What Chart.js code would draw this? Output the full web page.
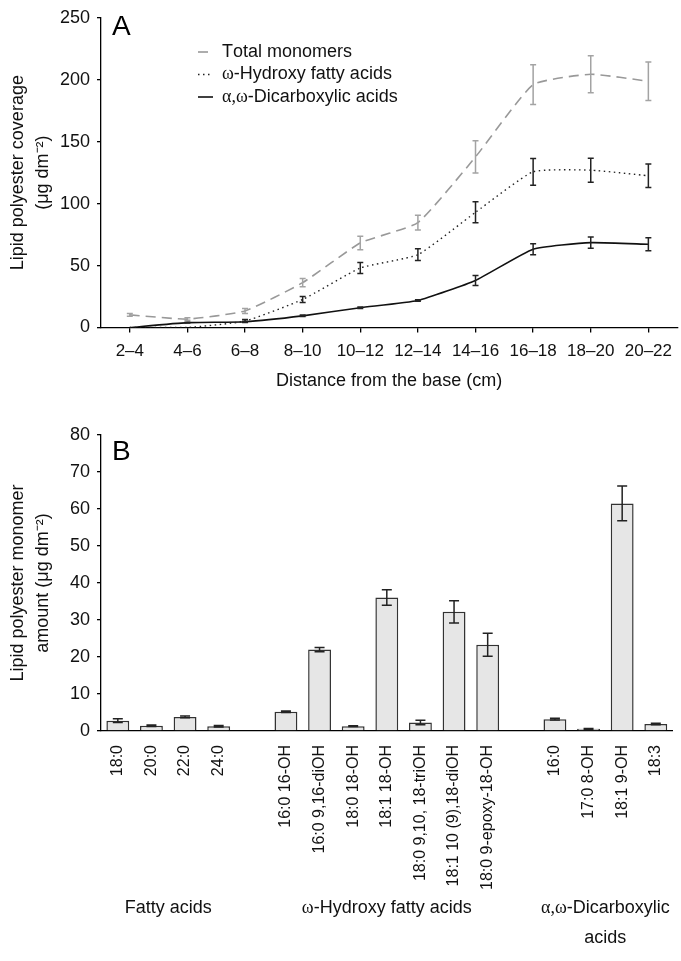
<!DOCTYPE html>
<html>
<head>
<meta charset="utf-8">
<script src="https://cdn.jsdelivr.net/npm/chart.js@4.4.1/dist/chart.umd.min.js"></script>
<style>
  body { margin: 0; background: #fff; }
  .box { position: absolute; left: 0; width: 681px; }
</style>
</head>
<body>
<div class="box" style="top:0;height:392px"><canvas id="chartA"></canvas></div>
<div class="box" style="top:392px;height:569px"><canvas id="chartB"></canvas></div>
<script>
// panel A: coverage along the length
var distLabels = ["2–4", "4–6", "6–8", "8–10", "10–12", "12–14", "14–16", "16–18", "18–20", "20–22"];
var totalMean = [10.2, 6.8, 13.4, 36.2, 68.2, 84.7, 137.7, 196, 204.4, 198.8];
var totalErr = [1.2, 1, 2, 3.4, 5.5, 6, 13, 16, 15, 15.5];
var hydroxyMean = [0, 0, 5.2, 22.6, 48, 58.8, 93, 125.7, 127, 122.5];
var hydroxyErr = [0, 0, 1.2, 2.4, 4.5, 4.7, 8.5, 10.8, 9.7, 9.4];
var dicarbMean = [0, 3.9, 4.7, 9.4, 16, 21.8, 38, 63.2, 68.5, 67.2];
var dicarbErr = [0, 0.3, 0.4, 0.6, 0.6, 0.6, 4, 4.5, 4.6, 5.2];

// panel B: monomer amounts (empty slots separate the groups)
var monomerLabels = ["18:0", "20:0", "22:0", "24:0", "",
  "16:0 16-OH", "16:0 9,16-diOH", "18:0 18-OH", "18:1 18-OH", "18:0 9,10, 18-triOH", "18:1 10 (9),18-diOH", "18:0 9-epoxy-18-OH", "",
  "16:0", "17:0 8-OH", "18:1 9-OH", "18:3"];
var monomerMean = [2.8, 1.4, 3.8, 1.3, null, 5.2, 22, 1.3, 36.1, 2.3, 32.2, 23.3, null, 3.2, 0.6, 61.5, 1.9];
var monomerErr = [0.5, 0.2, 0.25, 0.2, null, 0.2, 0.6, 0.1, 2.1, 0.6, 3, 3.1, null, 0.25, 0.1, 4.7, 0.2];

var groupNames = ["Fatty acids", "ω-Hydroxy fatty acids", "α,ω-Dicarboxylic\nacids"];
var groupFirst = [0, 5, 13];
var groupLast = [3, 11, 16];

var SANS = "'Liberation Sans', Arial, sans-serif";
var SERIF = "'Liberation Serif', 'Times New Roman', serif";
Chart.defaults.font.family = SANS;
Chart.defaults.font.size = 18;
Chart.defaults.color = "#111";

// greek letters (and the comma between them) in serif, the rest in sans
function drawMixed(ctx, text, x, y, size, align) {
  var pieces = [], total = 0;
  for (var i = 0; i < text.length; i++) {
    var ch = text[i];
    var serif = /[\u0370-\u03ff]/.test(ch) || (ch === "," && /[\u0370-\u03ff]/.test(text[i - 1] || ""));
    ctx.font = size + "px " + (serif ? SERIF : SANS);
    var w = ctx.measureText(ch).width;
    pieces.push({ ch: ch, font: ctx.font, w: w });
    total += w;
  }
  var cx = align === "center" ? x - total / 2 : x;
  ctx.textAlign = "left";
  ctx.textBaseline = "middle";
  pieces.forEach(function (p) {
    ctx.font = p.font;
    ctx.fillText(p.ch, cx, y);
    cx += p.w;
  });
}

var errorBars = {
  id: "errorBars",
  afterDatasetsDraw: function (chart) {
    var ctx = chart.ctx, yScale = chart.scales.y;
    chart.data.datasets.forEach(function (ds, i) {
      if (!ds.errors) return;
      var meta = chart.getDatasetMeta(i);
      ctx.save();
      ctx.strokeStyle = ds.errorColor;
      ctx.lineWidth = 1.5;
      meta.data.forEach(function (el, j) {
        var v = ds.data[j], e = ds.errors[j];
        if (v == null || !e) return;
        var x = el.x;
        var top = yScale.getPixelForValue(v + e);
        var bot = yScale.getPixelForValue(Math.max(0, v - e));
        var c = ds.capWidth / 2;
        ctx.beginPath();
        ctx.moveTo(x, top); ctx.lineTo(x, bot);
        ctx.moveTo(x - c, top); ctx.lineTo(x + c, top);
        ctx.moveTo(x - c, bot); ctx.lineTo(x + c, bot);
        ctx.stroke();
      });
      ctx.restore();
    });
  }
};

var panelLetter = {
  id: "panelLetter",
  afterDraw: function (chart, args, opts) {
    var ctx = chart.ctx;
    ctx.save();
    ctx.fillStyle = "#000";
    ctx.font = "28px " + SANS;
    ctx.textAlign = "left";
    ctx.textBaseline = "alphabetic";
    ctx.fillText(opts.text, 112, opts.y);
    ctx.restore();
  }
};

var lineLegend = {
  id: "lineLegend",
  afterDraw: function (chart) {
    if (chart.canvas.id !== "chartA") return;
    var ctx = chart.ctx;
    chart.data.datasets.forEach(function (ds, i) {
      var y = 52 + i * 22.5;
      ctx.save();
      ctx.strokeStyle = ds.borderColor;
      ctx.lineWidth = ds.borderWidth;
      ctx.setLineDash(ds.borderDash || []);
      ctx.beginPath();
      ctx.moveTo(198, y); ctx.lineTo(213, y);
      ctx.stroke();
      ctx.setLineDash([]);
      ctx.fillStyle = "#111";
      drawMixed(ctx, ds.label, 222, y, 18, "left");
      ctx.restore();
    });
  }
};

var groupLabels = {
  id: "groupLabels",
  afterDraw: function (chart) {
    if (chart.canvas.id !== "chartB") return;
    var ctx = chart.ctx, x = chart.scales.x;
    ctx.save();
    ctx.fillStyle = "#111";
    groupNames.forEach(function (name, g) {
      var cx = (x.getPixelForValue(groupFirst[g]) + x.getPixelForValue(groupLast[g])) / 2;
      name.split("\n").forEach(function (line, k) {
        drawMixed(ctx, line, cx, 516 + k * 30, 18, "center");
      });
    });
    ctx.restore();
  }
};

function fixWidth(w) { return function (s) { s.width = w; }; }
function fixHeight(h) { return function (s) { s.height = h; }; }

var axisColor = "#000";

new Chart(document.getElementById("chartA"), {
  type: "line",
  data: {
    labels: distLabels,
    datasets: [
      { label: "Total monomers", data: totalMean, errors: totalErr, errorColor: "#a3a3a3", capWidth: 6,
        borderColor: "#999", borderWidth: 1.6, borderDash: [10, 6] },
      { label: "ω-Hydroxy fatty acids", data: hydroxyMean, errors: hydroxyErr, errorColor: "#222", capWidth: 6,
        borderColor: "#222", borderWidth: 1.4, borderDash: [1.5, 3.5] },
      { label: "α,ω-Dicarboxylic acids", data: dicarbMean, errors: dicarbErr, errorColor: "#222", capWidth: 6,
        borderColor: "#111", borderWidth: 1.6 }
    ]
  },
  options: {
    responsive: true,
    maintainAspectRatio: false,
    animation: false,
    layout: { padding: { top: 12, right: 0, left: 0, bottom: 0 } },
    elements: { point: { radius: 0 }, line: { tension: 0.15 } },
    plugins: {
      legend: { display: false },
      tooltip: { enabled: false },
      panelLetter: { text: "A", y: 35 }
    },
    scales: {
      x: {
        offset: true,
        grid: { drawOnChartArea: false, tickLength: 5, color: axisColor, lineWidth: 1.3 },
        border: { color: axisColor, width: 1.3 },
        ticks: { padding: 9, maxRotation: 0, autoSkip: false, font: { size: 17 } },
        title: { display: true, text: "Distance from the base (cm)", padding: 0 },
        afterFit: fixHeight(64.5)
      },
      y: {
        min: 0, max: 250,
        grid: { drawOnChartArea: false, tickLength: 4, color: axisColor, lineWidth: 1.3 },
        border: { color: axisColor, width: 1.3 },
        ticks: { stepSize: 50, padding: 7 },
        title: { display: true, text: ["Lipid polyester coverage", "(μg dm⁻²)"],
          font: { size: 18, lineHeight: 1.4 }, padding: { top: 5, bottom: 0 } },
        afterFit: fixWidth(101)
      }
    }
  },
  plugins: [errorBars, panelLetter, lineLegend]
});

new Chart(document.getElementById("chartB"), {
  type: "bar",
  data: {
    labels: monomerLabels,
    datasets: [
      { label: "Monomer amount", data: monomerMean, errors: monomerErr, errorColor: "#222", capWidth: 10,
        backgroundColor: "#e6e6e6", borderColor: "#333", borderWidth: 1.5,
        categoryPercentage: 1, barPercentage: 0.68 }
    ]
  },
  options: {
    responsive: true,
    maintainAspectRatio: false,
    animation: false,
    layout: { padding: { top: 43, right: 0, left: 0, bottom: 0 } },
    plugins: {
      legend: { display: false },
      tooltip: { enabled: false },
      panelLetter: { text: "B", y: 68 }
    },
    scales: {
      x: {
        grid: { display: false },
        border: { color: axisColor, width: 1.3 },
        ticks: { padding: 6, minRotation: 90, maxRotation: 90, autoSkip: false, font: { size: 16 } },
        afterFit: fixHeight(230)
      },
      y: {
        min: 0, max: 80,
        grid: { drawOnChartArea: false, tickLength: 4, color: axisColor, lineWidth: 1.3 },
        border: { color: axisColor, width: 1.3 },
        ticks: { stepSize: 10, padding: 7 },
        title: { display: true, text: ["Lipid polyester monomer", "amount (μg dm⁻²)"],
          font: { size: 18, lineHeight: 1.4 }, padding: { top: 5, bottom: 0 } },
        afterFit: fixWidth(101)
      }
    }
  },
  plugins: [errorBars, panelLetter, groupLabels]
});
</script>
</body>
</html>
